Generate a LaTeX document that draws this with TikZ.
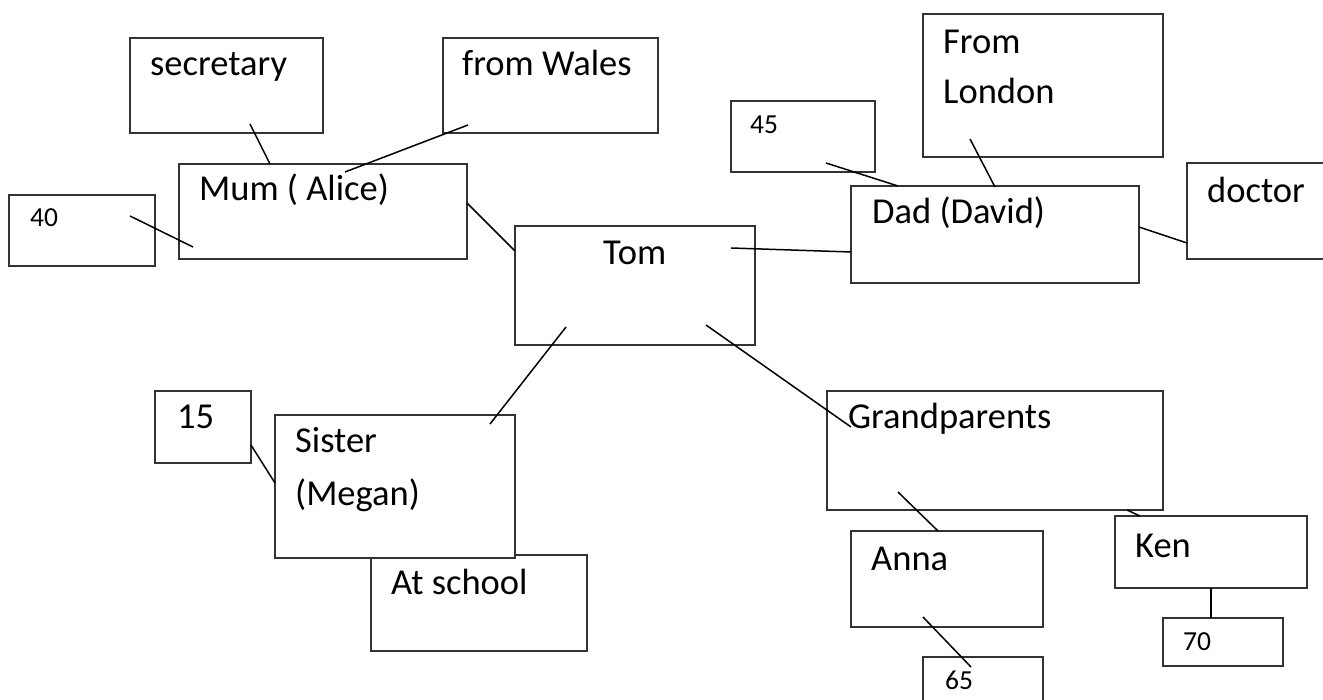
\documentclass[tikz,border=0pt]{standalone}
\usepackage{fontspec}
\setmainfont{Carlito}
\newcommand\bx[5]{\node[box,minimum width=#4pt,minimum height=#5pt] (#1) at (#2,#3) {};}
\begin{document}
\begin{tikzpicture}[x=1pt,y=-1pt,
  box/.style={draw=black!80,line width=1.2pt,fill=white,rectangle,inner sep=0pt,outer sep=0pt,anchor=north west},
  txt/.style={inner sep=0pt,anchor=base west,font=\fontsize{36.5}{44}\selectfont},
  small/.style={inner sep=0pt,anchor=base west,font=\fontsize{27.5}{33}\selectfont},
  con/.style={draw=black,line width=1.5pt}]
\clip (0,0) rectangle (1323,700);
\fill[white] (0,0) rectangle (1323,700);
% boxes
\bx{sec}{130}{38}{193}{95}
\bx{wal}{443}{38}{215}{95}
\bx{mum}{179}{164}{288}{95}
\bx{forty}{9}{195}{146}{71}
\bx{tom}{515}{226}{240}{119}
\bx{ff}{731}{101}{144}{71}
\bx{lon}{923}{14}{240}{143}
\bx{dad}{851}{186}{288}{97}
\bx{doc}{1187}{163}{140}{96}
\bx{gp}{827}{391}{336}{119}
\bx{anna}{851}{531}{192}{96}
\bx{ken}{1115}{516}{192}{72}
\bx{seventy}{1163}{618}{120}{48}
\bx{sixtyfive}{923}{657}{120}{60}
\bx{fifteen}{155}{391}{96}{72}
\bx{school}{371}{555}{216}{96}
\bx{sis}{275}{415}{240}{143}
% texts
\node[txt] (secT) at ([shift={(20,38)}]sec.north west) {secretary};
\node[txt] (walT) at ([shift={(19,38)}]wal.north west) {from Wales};
\node[txt] (mumT) at ([shift={(20,37)}]mum.north west) {Mum ( Alice)};
\node[small] (fortyT) at ([shift={(21,32)}]forty.north west) {40};
\node[txt] (tomT) at ([shift={(88,39)}]tom.north west) {Tom};
\node[small] (ffT) at ([shift={(19,33)}]ff.north west) {45};
\node[txt] (lonA) at ([shift={(20,40)}]lon.north west) {From};
\node[txt] (lonB) at ([shift={(20,90)}]lon.north west) {London};
\node[txt] (dadT) at ([shift={(21,38)}]dad.north west) {Dad (David)};
\node[txt] (docT) at ([shift={(20,40)}]doc.north west) {doctor};
\node[txt] (gpT) at ([shift={(21,38)}]gp.north west) {Grandparents};
\node[txt] (annaT) at ([shift={(20,39)}]anna.north west) {Anna};
\node[txt] (kenT) at ([shift={(20,41)}]ken.north west) {Ken};
\node[small] (seventyT) at ([shift={(20,32)}]seventy.north west) {70};
\node[small] (sixtyfiveT) at ([shift={(22,32)}]sixtyfive.north west) {65};
\node[txt] (fifteenT) at ([shift={(22,38)}]fifteen.north west) {15};
\node[txt] (sisA) at ([shift={(20,38)}]sis.north west) {Sister};
\node[txt] (sisB) at ([shift={(20,90)}]sis.north west) {(Megan)};
\node[txt] (schoolT) at ([shift={(20,39)}]school.north west) {At school};
% connectors
\draw[con] ([shift={(120,86)}]sec.north west) -- ([shift={(91,0)}]mum.north west);
\draw[con] ([shift={(25,87)}]wal.north west) -- ([shift={(166,8)}]mum.north west);
\draw[con] ([shift={(121,21)}]forty.north west) -- ([shift={(14,83)}]mum.north west);
\draw[con] ([shift={(288,39)}]mum.north west) -- ([shift={(0,25)}]tom.north west);
\draw[con] ([shift={(216,22)}]tom.north west) -- ([shift={(0,66)}]dad.north west);
\draw[con] ([shift={(95,62)}]ff.north west) -- ([shift={(47,0)}]dad.north west);
\draw[con] ([shift={(47,125)}]lon.north west) -- ([shift={(144,1)}]dad.north west);
\draw[con] ([shift={(288,41)}]dad.north west) -- ([shift={(0,80)}]doc.north west);
\draw[con] ([shift={(51,101)}]tom.north west) -- ([shift={(215,9)}]sis.north west);
\draw[con] ([shift={(96,54)}]fifteen.north west) -- ([shift={(0,68)}]sis.north west);
\draw[con] ([shift={(191,99)}]tom.north west) -- ([shift={(24,36)}]gp.north west);
\draw[con] ([shift={(71,101)}]gp.north west) -- ([shift={(87,0)}]anna.north west);
\draw[con] ([shift={(300,119)}]gp.north west) -- ([shift={(25,0)}]ken.north west);
\draw[con] ([shift={(72,86)}]anna.north west) -- ([shift={(48,10)}]sixtyfive.north west);
\draw[con] ([shift={(96,72)}]ken.north west) -- ([shift={(48,0)}]seventy.north west);
\end{tikzpicture}
\end{document}
